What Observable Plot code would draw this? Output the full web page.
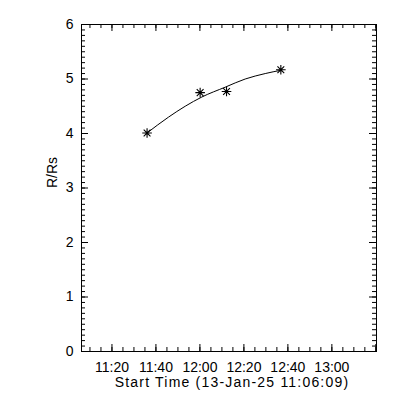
<!DOCTYPE html>
<html><head><meta charset="utf-8">
<script src="https://cdn.jsdelivr.net/npm/d3@7"></script>
<script src="https://cdn.jsdelivr.net/npm/@observablehq/plot@0.6"></script>
<style>
body{margin:0;background:#fff;}
#chart .xlab{letter-spacing:1.2px;}
</style>
</head><body><div id="chart"></div>
<script>
const day = "2025-01-13";
const pointTimes = ["11:35:58","12:00:06","12:12:06","12:36:48"];
const pointValues = [4.01,4.75,4.77,5.17];
const fitTimes = ["11:35:58","11:45:42","11:53:18","12:00:54","12:11:30","12:20:36","12:29:42","12:36:48"];
const fitValues = [4.01,4.30,4.50,4.67,4.85,5.00,5.10,5.16];
const xTickLabels = ["11:20","11:40","12:00","12:20","12:40","13:00","13:20"];
const yTickValues = [0,1,2,3,4,5,6];
const xDomain = ["11:06:09","13:20:18"];
const xTitle = "Start Time (13-Jan-25 11:06:09)";
const yTitle = "R/Rs";

const t = s => new Date(`${day}T${s.length === 5 ? s + ":00" : s}Z`);
const points = pointTimes.map((s, i) => ({time: t(s), value: pointValues[i]}));
const fit = fitTimes.map((s, i) => ({time: t(s), value: fitValues[i]}));
const xMajor = xTickLabels.map(t);
const xMinor = d3.utcMinute.every(5).range(t("11:06:09"), t("13:20:18"));
const yMinor = d3.range(0, 60.5, 1).map(d => d / 10);

const W = 400, H = 400, mL = 81, mR = 24, mT = 24, mB = 49;
const iw = W - mL - mR, ih = H - mT - mB;
const major = 7, minor = 4;

const star8 = {draw(ctx, size) {
  const r = Math.sqrt(size / Math.PI), d = r * Math.SQRT1_2;
  ctx.moveTo(-r, 0); ctx.lineTo(r, 0);
  ctx.moveTo(0, -r); ctx.lineTo(0, r);
  ctx.moveTo(-d, -d); ctx.lineTo(d, d);
  ctx.moveTo(-d, d); ctx.lineTo(d, -d);
}};

const chart = Plot.plot({
  width: W, height: H,
  marginLeft: mL, marginRight: mR, marginTop: mT, marginBottom: mB,
  style: {fontFamily: "Liberation Sans", fontSize: "14px", background: "#fff", color: "#000"},
  x: {type: "utc", domain: xDomain.map(t), axis: null},
  y: {domain: [0, 6], axis: null},
  marks: [
    Plot.frame({stroke: "black"}),
    Plot.tickX(xMajor, {x: d => d, insetTop: ih - major, stroke: "black"}),
    Plot.tickX(xMajor, {x: d => d, insetBottom: ih - major, stroke: "black"}),
    Plot.tickX(xMinor, {x: d => d, insetTop: ih - minor, stroke: "black"}),
    Plot.tickX(xMinor, {x: d => d, insetBottom: ih - minor, stroke: "black"}),
    Plot.tickY(yTickValues, {y: d => d, insetRight: iw - major, stroke: "black"}),
    Plot.tickY(yTickValues, {y: d => d, insetLeft: iw - major, stroke: "black"}),
    Plot.tickY(yMinor, {y: d => d, insetRight: iw - minor, stroke: "black"}),
    Plot.tickY(yMinor, {y: d => d, insetLeft: iw - minor, stroke: "black"}),
    Plot.axisX(xMajor.slice(0, 6), {tickSize: 0, tickPadding: 11, tickFormat: "%H:%M", label: null, fontSize: 14}),
    Plot.axisY(yTickValues, {tickSize: 0, tickPadding: 8, tickFormat: "d", label: null, fontSize: 14}),
    Plot.text([xTitle], {frameAnchor: "bottom", lineAnchor: "top", dy: 26, dx: 3, fontSize: 14, className: "xlab", fill: "black"}),
    Plot.text([yTitle], {frameAnchor: "left", rotate: -90, dx: -29, fontSize: 14, fill: "black"}),
    Plot.line(fit, {x: "time", y: "value", curve: "monotone-x", stroke: "black", strokeWidth: 1}),
    Plot.dot(points, {x: "time", y: "value", symbol: star8, r: 4.8, fill: "none", stroke: "black", strokeWidth: 1.1})
  ]
});
document.getElementById("chart").append(chart);
</script>
</body></html>
